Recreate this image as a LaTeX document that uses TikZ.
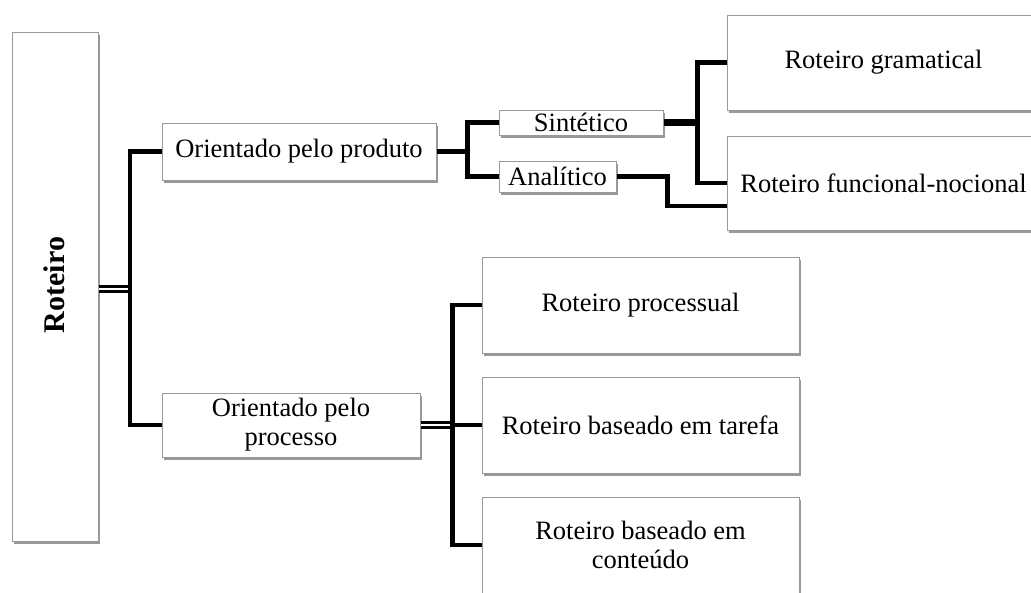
\documentclass[tikz,border=0pt]{standalone}
\usepackage{fontspec}
\setmainfont{Liberation Serif}
\usepackage{xcolor}
\usetikzlibrary{
    arrows,
    arrows.meta,
    shapes,
    positioning,
    shadows,
    calc
}
\tikzset{
    caixa/.style={draw=black!40, line width=1pt, fill=white, align=center, inner sep=0pt,
        font=\fontsize{26.5}{29}\selectfont,
        drop shadow={shadow xshift=1.5pt, shadow yshift=-3pt, fill=black, opacity=0.4}},
    ramo/.style={line width=4.5pt},
    ramoduplo/.style={line width=3.2pt, double=white, double distance=2.4pt}
}
\begin{document}
\begin{tikzpicture}[x=1pt, y=-1pt]
                \useasboundingbox (0,0) rectangle (1031,592);
                \clip (0,0) rectangle (1031,592);
                \node[caixa, minimum width=86pt, minimum height=509pt] (roteiro) at (55,286.5) {};
                \node[rotate=90, font=\fontsize{30}{34}\selectfont\bfseries] (titulo) at (54,285) {Roteiro};
                \node[caixa, minimum width=274pt, minimum height=57pt] (produto) at (299,151.5) {Orientado pelo produto};
                \node[caixa, minimum width=258pt, minimum height=64pt] (processo) at (291,425) {Orientado pelo\\processo};
                \node[caixa, minimum width=164pt, minimum height=25pt] (sintetico) at (581,122.5) {Sintético};
                \node[caixa, minimum width=117pt, minimum height=31pt] (analitico) at (557.5,176.5) {Analítico};
                \node[caixa, minimum width=313pt, minimum height=95pt] (gramatical) at (883.5,62.5) {Roteiro gramatical};
                \node[caixa, minimum width=313pt, minimum height=94pt] (funcional) at (883.5,183) {Roteiro funcional-nocional};
                \foreach \nome/\y/\texto in {processual/305/{Roteiro processual}, tarefa/425/{Roteiro baseado em tarefa}, conteudo/545/{Roteiro baseado em\\conteúdo}}{
                    \node[caixa, minimum width=317pt, minimum height=96pt] (\nome) at (640.5,\y) {\texto};
                }

                \coordinate (tronco) at (130,289);
                \draw[ramoduplo] (roteiro.east |- tronco) -- (tronco);
                \draw[ramo] (produto.west) -| (tronco) |- (processo.west);

                \draw[ramo] (produto.east) -- ++(31,0) coordinate (noproduto);
                \draw[ramo] (sintetico.west) -| (noproduto) |- (analitico.west);
                \draw[line width=7.5pt] (sintetico.east) -- ++(34,0) coordinate (nosintetico);
                \draw[ramo] (gramatical.west) -| (nosintetico) |- (funcional.west);
                \draw[ramo] (analitico.east) -- ++(51,0) |- ([yshift=-23pt]funcional.west);

                \draw[ramoduplo] (processo.east) -- ++(32,0) coordinate (noprocesso);
                \draw[ramo] (processual.west) -| (noprocesso) |- (conteudo.west);
                \draw[ramo] (tarefa.west) -- (noprocesso);
\end{tikzpicture}
\end{document}
